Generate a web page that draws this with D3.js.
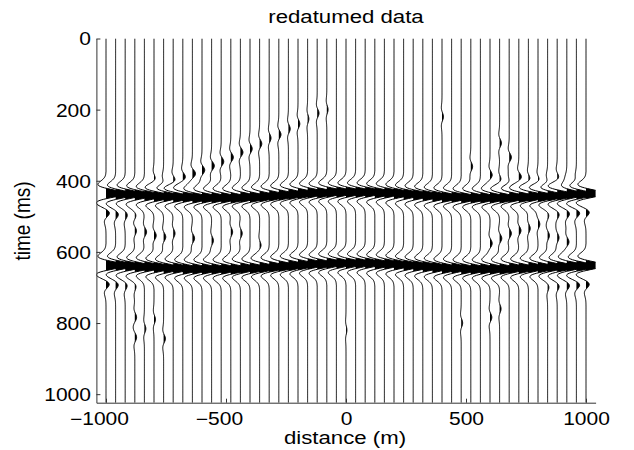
<!DOCTYPE html>
<html>
<head>
<meta charset="utf-8">
<script src="https://cdn.jsdelivr.net/npm/d3@7"></script>
<style>
  html, body { margin: 0; padding: 0; background: #fff; }
  svg text { font-family: "Liberation Sans", Arial, Helvetica, sans-serif; fill: #000; }
</style>
</head>
<body>
<svg id="chart" width="634" height="450"></svg>
<script>
// ---- data -------------------------------------------------------------
// receiver positions (m)
const offsets = [-1000,-960,-920,-880,-840,-800,-760,-720,-680,-640,-600,-560,-520,-480,-440,-400,
  -360,-320,-280,-240,-200,-160,-120,-80,-40,0,40,80,120,160,200,240,280,320,360,400,440,480,520,
  560,600,640,680,720,760,800,840,880,920,960,1000];

// traveltime of the first reflection per trace (ms)
const event1Time = [436,437,438,440,441,443,444,445,446,447,448,448,448,447,446,445,443,442,440,438,
  436,434,433,432,431,431,431,432,433,434,436,438,440,442,443,445,446,447,448,448,448,447,446,445,444,
  443,441,440,438,437,436];

// traveltime of the second reflection per trace (ms)
const event2Time = [637,638,639,641,642,644,645,646,647,647,648,648,648,647,646,645,643,642,640,638,
  636,634,633,632,631,631,631,632,633,634,636,638,640,642,643,645,646,647,647,648,648,647,646,645,644,
  643,642,641,640,639,638];

const eventAmp = [1.0, 1.0];

// source wavelet, 2 ms samples from -60 ms to +60 ms
const wavelet = [-0.005,-0.008,-0.012,-0.018,-0.027,-0.039,-0.055,-0.076,-0.103,-0.136,-0.175,-0.219,
  -0.268,-0.317,-0.365,-0.406,-0.435,-0.446,-0.434,-0.393,-0.319,-0.214,-0.078,0.084,0.262,0.445,0.621,
  0.776,0.897,0.974,1.000,0.974,0.897,0.776,0.621,0.445,0.262,0.084,-0.078,-0.214,-0.319,-0.393,-0.434,
  -0.446,-0.435,-0.406,-0.365,-0.317,-0.268,-0.219,-0.175,-0.136,-0.103,-0.076,-0.055,-0.039,-0.027,
  -0.018,-0.012,-0.008,-0.005];

// residual redatuming artefacts: [offset (m), time (ms), amplitude]
const artefacts = [
  // dipping noise above the first reflection, left half
  [-80,200,0.07],[-120,210,0.1],[-160,225,0.07],[-200,239,0.1],[-240,253,0.1],[-280,270,0.12],
  [-320,280,0.1],[-360,295,0.12],[-400,309,0.12],[-440,320,0.14],[-480,333,0.14],[-520,345,0.14],
  [-560,358,0.15],[-600,370,0.15],[-640,380,0.17],[-680,390,0.15],[-720,400,0.15],[-760,410,0.15],
  [-800,396,0.1],
  // above the first reflection, right half
  [400,220,0.08],[520,360,0.1],[600,384,0.12],[640,294,0.1],[640,398,0.1],[680,333,0.12],
  [680,407,0.1],[720,389,0.15],[760,395,0.12],[800,400,0.12],[840,407,0.15],[880,392,0.12],
  [920,412,0.15],[960,405,0.12],
  // between the reflections
  [-880,540,0.1],[-840,544,0.12],[-800,553,0.12],[-760,558,0.12],[-720,547,0.1],[-640,561,0.12],
  [-560,567,0.1],[-480,544,0.1],[-440,547,0.1],[-360,581,0.08],
  [600,575,0.12],[640,561,0.12],[680,547,0.12],[720,539,0.12],[760,533,0.1],[800,522,0.1],
  [840,553,0.1],[880,560,0.1],[920,572,0.12],
  // ringing near the ends of the line
  [-1000,490,0.2],[-960,494,0.16],[-920,496,0.12],[-880,498,0.08],
  [-1000,690,0.2],[-960,692,0.16],[-920,694,0.12],[-880,696,0.08],
  [1000,488,0.2],[960,490,0.2],[920,492,0.16],[880,494,0.12],[840,496,0.08],
  [1000,690,0.2],[960,692,0.2],[920,694,0.16],[880,696,0.12],[840,698,0.08],
  // below the second reflection
  [-880,783,0.1],[-880,840,0.1],[-840,815,0.08],[-800,790,0.08],[-760,843,0.1],
  [480,800,0.08],[600,783,0.1],[640,760,0.08],[0,820,0.05]
];

const xTicks = [-1000, -500, 0, 500, 1000];
const yTicks = [0, 200, 400, 600, 800, 1000];

// ---- build the traces --------------------------------------------------
const dt = 2;
const tMax = 1024;
const times = d3.range(0, tMax + dt, dt);
const half = (wavelet.length - 1) / 2;

function addWavelet(vals, t0, amp) {
  const k0 = Math.round(t0 / dt);
  for (let j = 0; j < wavelet.length; j++) {
    const k = k0 - half + j;
    if (k >= 0 && k < vals.length) vals[k] += amp * wavelet[j];
  }
}

const traces = offsets.map((d, i) => {
  const vals = new Array(times.length).fill(0);
  addWavelet(vals, event1Time[i], eventAmp[0]);
  addWavelet(vals, event2Time[i], eventAmp[1]);
  artefacts.filter(a => a[0] === d).forEach(a => addWavelet(vals, a[1], a[2]));
  // insert zero crossings so the filled lobes meet the trace exactly
  const pts = [];
  for (let k = 0; k < vals.length; k++) {
    if (k > 0) {
      const a = vals[k - 1], b = vals[k];
      if ((a > 0 && b < 0) || (a < 0 && b > 0)) {
        pts.push({ t: times[k - 1] + dt * a / (a - b), v: 0 });
      }
    }
    pts.push({ t: times[k], v: vals[k] });
  }
  return { d, pts };
});

// ---- layout -------------------------------------------------------------
const svg = d3.select("#chart");
const plotLeft = 96.4, plotRight = 595.6, plotTop = 38.5, plotBottom = 402.7;

const x = d3.scaleLinear().domain([-1040, 1040]).range([plotLeft, plotRight]);
const y = d3.scaleLinear().domain([0, tMax]).range([plotTop, plotBottom]);
const gain = 76; // metres of deflection per unit amplitude

svg.append("defs").append("clipPath").attr("id", "plot-clip")
  .append("rect")
  .attr("x", plotLeft).attr("y", plotTop)
  .attr("width", plotRight - plotLeft).attr("height", plotBottom - plotTop);

const plot = svg.append("g").attr("clip-path", "url(#plot-clip)");

const area = d3.area().y(p => y(p.t));
const line = d3.line().y(p => y(p.t));

// filled positive lobes
plot.selectAll("path.fill")
  .data(traces)
  .join("path")
  .attr("class", "fill")
  .attr("d", tr => area
      .x0(() => x(tr.d))
      .x1(p => x(tr.d + Math.max(0, p.v) * gain))(tr.pts))
  .attr("fill", "#000");

// wiggle lines
plot.selectAll("path.wiggle")
  .data(traces)
  .join("path")
  .attr("class", "wiggle")
  .attr("d", tr => line.x(p => x(tr.d + p.v * gain))(tr.pts))
  .attr("fill", "none")
  .attr("stroke", "#000")
  .attr("stroke-width", 1);

// ---- axes ---------------------------------------------------------------
const stretch = "scale(1.2,1)";

const gx = svg.append("g")
  .attr("transform", `translate(0,${plotBottom})`)
  .call(d3.axisBottom(x).tickValues(xTicks).tickSizeInner(-4).tickSizeOuter(0)
    .tickFormat(d3.format("d")));
gx.selectAll("text")
  .attr("y", 0).attr("dy", 0)
  .attr("font-size", 17.5)
  .attr("transform", d => `translate(${d < 0 ? -7 : 0},22.3) ${stretch}`);

const gy = svg.append("g")
  .attr("transform", `translate(${plotLeft},0)`)
  .call(d3.axisLeft(y).tickValues(yTicks).tickSizeInner(-4).tickSizeOuter(0)
    .tickFormat(d3.format("d")));
gy.selectAll("text")
  .attr("x", 0).attr("dy", "0.37em")
  .attr("font-size", 17.5)
  .attr("transform", `translate(-5.5,0) ${stretch}`);

svg.selectAll(".domain, .tick line").attr("stroke", "#333").attr("stroke-width", 1);

// ---- labels -------------------------------------------------------------
svg.append("text")
  .attr("transform", `translate(346,23) ${stretch}`)
  .attr("text-anchor", "middle")
  .attr("font-size", 18.5)
  .text("redatumed data");

svg.append("text")
  .attr("transform", `translate(345,444) ${stretch}`)
  .attr("text-anchor", "middle")
  .attr("font-size", 18.5)
  .text("distance (m)");

svg.append("text")
  .attr("transform", "translate(30,221) rotate(-90) scale(1,1.2)")
  .attr("text-anchor", "middle")
  .attr("font-size", 19)
  .text("time (ms)");
</script>
</body>
</html>
